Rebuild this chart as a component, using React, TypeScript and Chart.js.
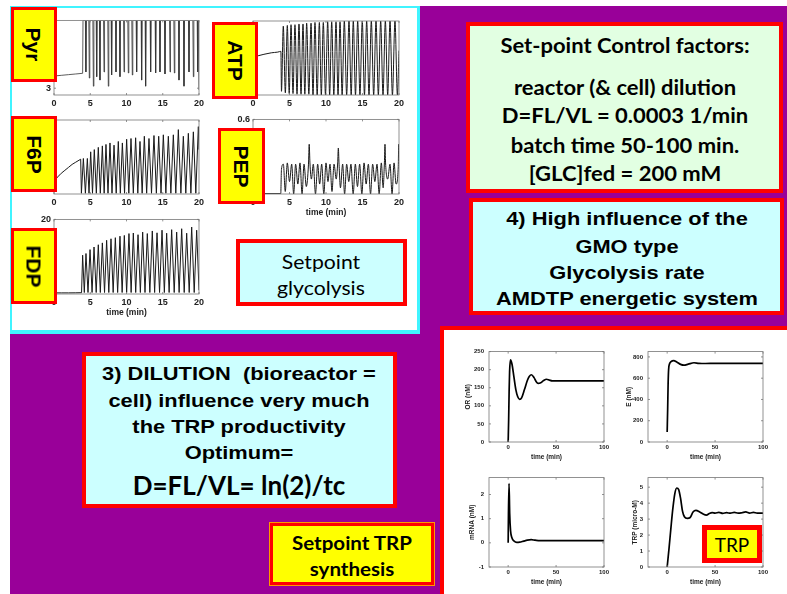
import React, { useEffect, useRef } from 'react';
import { Chart, registerables } from 'chart.js';
Chart.register(...registerables);
Chart.defaults.font.family = 'Liberation Sans';

type P = [number, number];

// ---------------- data ----------------
const T_TICKS_20 = [0, 5, 10, 15, 20];
const T_TICKS_100 = [0, 50, 100];

// Pyr: flat start, then plateau at top with sharp downward dips
const PYR_START: P[] = [[0, 3.36], [1, 3.38], [2, 3.4], [3, 3.42], [3.95, 3.44]];
const PYR_TOP = 5;
const PYR_DIP_T = [4.4, 4.87, 5.43, 5.89, 6.34, 6.9, 7.49, 7.95, 8.55, 9.1, 9.66, 10.25, 10.8, 11.4, 12.09, 12.64, 13.33, 14.02, 14.62, 15.31, 16.0, 16.6, 17.24, 17.93, 18.62, 19.22, 19.82];
const PYR_DIP_V = [3.48, 3.3, 3.06, 3.34, 3.24, 3.48, 3.06, 3.39, 3.48, 3.34, 3.48, 3.45, 3.39, 3.48, 3.24, 3.06, 3.48, 3.45, 3.48, 3.42, 3.48, 3.45, 3.24, 3.06, 3.48, 3.34, 3.48];
const PYR_END: P = [20, 2.95];
const PYR_YTICKS = [3];

const ATP: P[] = [[0.7, 0.53], [1.5, 0.55], [2.5, 0.57], [3.4, 0.58], [3.82, 0.59], [3.9, 0.05],
  [4.15, 0.93], [4.43, 0.03], [4.7, 0.94], [4.96, 0.02], [5.21, 0.95], [5.48, 0.02], [5.75, 0.95], [6.03, 0.01], [6.3, 0.96], [6.58, 0.01], [6.85, 0.96], [7.1, 0.01], [7.35, 0.97], [7.65, 0.01], [7.95, 0.97], [8.22, 0], [8.49, 0.98], [8.79, 0], [9.09, 0.98], [9.36, 0], [9.63, 0.98], [9.93, 0], [10.23, 0.99], [10.5, 0], [10.78, 0.99], [11.07, 0], [11.37, 0.99], [11.65, 0], [11.92, 0.99], [12.21, 0], [12.51, 1], [12.83, 0], [13.15, 1], [13.45, 0], [13.74, 1], [14.04, 0], [14.34, 1], [14.65, 0], [14.97, 1], [15.27, 0], [15.57, 1], [15.89, 0], [16.21, 1], [16.53, 0], [16.85, 1], [17.17, 0], [17.49, 1], [17.81, 0], [18.13, 1], [18.45, 0], [18.77, 1], [19.1, 0], [19.45, 1], [19.78, 0], [20, 0.6]];

const F6P: P[] = [[0, 0.17], [0.5, 0.23], [1, 0.28], [1.5, 0.32], [2, 0.36], [2.5, 0.4], [3, 0.43], [3.68, 0.47], [3.78, 0.01],
  [4.05, 0.48], [4.33, 0.01], [4.6, 0.48], [4.83, 0.01], [5.06, 0.57], [5.31, 0.01], [5.56, 0.6], [5.84, 0.01], [6.11, 0.63], [6.39, 0.01], [6.67, 0.65], [6.92, 0.01], [7.17, 0.67], [7.45, 0.01], [7.72, 0.69], [8.0, 0.01], [8.28, 0.66], [8.58, 0.01], [8.87, 0.71], [9.15, 0.01], [9.43, 0.69], [9.73, 0.01], [10.02, 0.74], [10.32, 0.01], [10.62, 0.75], [10.94, 0.01], [11.26, 0.76], [11.56, 0.01], [11.86, 0.71], [12.16, 0.01], [12.46, 0.78], [12.78, 0.01], [13.1, 0.75], [13.45, 0.01], [13.79, 0.79], [14.12, 0.01], [14.44, 0.78], [14.76, 0.01], [15.08, 0.8], [15.43, 0.01], [15.77, 0.78], [16.12, 0.01], [16.46, 0.8], [16.8, 0.01], [17.15, 0.87], [17.5, 0.01], [17.84, 0.78], [18.18, 0.01], [18.53, 0.82], [18.88, 0.01], [19.22, 0.84], [19.56, 0.01], [19.91, 0.91], [20, 0.6]];

const PEP: P[] = [[1.6, 0.003], [3.8, 0.003], [3.9, 0.2], [4.16, 0.24], [4.42, 0.02], [4.7, 0.25], [5.0, 0.1], [5.3, 0.24], [5.57, 0.0], [5.84, 0.24], [6.14, 0.08], [6.44, 0.25], [6.72, 0.0], [6.99, 0.24], [7.3, 0.06], [7.6, 0.24], [7.7, 0.4], [7.8, 0.25], [8.0, 0.12], [8.26, 0.24], [8.56, 0.0], [8.86, 0.24], [9.13, 0.08], [9.41, 0.24], [9.7, 0.0], [10.0, 0.25], [10.27, 0.1], [10.55, 0.24], [10.82, 0.02], [11.1, 0.24], [11.4, 0.12], [11.6, 0.25], [11.69, 0.37], [11.78, 0.25], [11.98, 0.05], [12.28, 0.24], [12.55, 0.0], [12.83, 0.24], [13.12, 0.1], [13.42, 0.24], [13.72, 0.0], [14.02, 0.24], [14.31, 0.06], [14.61, 0.24], [14.91, 0.0], [15.21, 0.25], [15.5, 0.08], [15.8, 0.24], [16.1, 0.0], [16.39, 0.24], [16.69, 0.1], [16.99, 0.24], [17.28, 0.0], [17.58, 0.25], [17.83, 0.05], [18.0, 0.25], [18.08, 0.4], [18.16, 0.25], [18.45, 0.12], [18.77, 0.24], [19.05, 0.0], [19.32, 0.25], [19.6, 0.08], [19.9, 0.22], [19.96, 0.4], [20, 0.3]];
const PEP_YTICKS = [0.6];

const FDP: P[] = [[0, 0.3], [1, 0.3], [2, 0.3], [3, 0.32], [3.8, 0.35], [3.95, 10.4], [4.18, 0.4], [4.41, 10.85], [4.69, 0.4], [4.97, 11.9], [5.25, 0.4], [5.52, 12.6], [5.82, 0.4], [6.11, 13.2], [6.39, 0.4], [6.67, 13.7], [6.97, 0.4], [7.26, 14.4], [7.56, 0.4], [7.86, 14.8], [8.16, 0.4], [8.46, 15.1], [8.78, 0.4], [9.1, 15.5], [9.4, 0.4], [9.7, 15.7], [10.02, 0.4], [10.34, 16.2], [10.64, 0.4], [10.94, 16.35], [11.27, 0.4], [11.59, 15.9], [11.91, 0.4], [12.23, 16.6], [12.55, 0.4], [12.87, 16.2], [13.22, 0.4], [13.56, 16.9], [13.88, 0.4], [14.21, 16.4], [14.56, 0.4], [14.9, 17.1], [15.22, 0.4], [15.54, 16.3], [15.88, 0.4], [16.23, 17.25], [16.58, 0.4], [16.92, 16.6], [17.26, 0.4], [17.61, 17.5], [17.96, 0.4], [18.3, 16.3], [18.65, 0.4], [18.99, 17.95], [19.34, 0.4], [19.68, 17.1], [20, 1.0]];
const FDP_YTICKS = [20];

const OR: P[] = [[0, 0], [0.5, 60], [1, 140], [1.5, 195], [2.4, 227], [4, 215], [6, 180], [8, 145], [10, 125], [12, 118], [14, 122], [17, 145], [20, 170], [22, 181], [24.3, 186], [27, 178], [29, 168], [31.3, 162], [34, 164], [37, 170], [40, 173.5], [43, 171], [46, 169], [50, 169], [60, 169], [70, 169], [80, 169], [90, 169], [100, 169]];
const OR_YTICKS = [0, 50, 100, 150, 200, 250];

const E: P[] = [[0, 95], [0.5, 300], [1, 550], [1.5, 680], [2.5, 735], [4, 755], [6.9, 766], [10, 752], [14, 730], [17.4, 722], [22, 732], [28, 745], [33, 740], [40, 738], [50, 739], [60, 739], [70, 739], [80, 739], [90, 739], [100, 739]];
const E_YTICKS = [0, 200, 400, 600, 800];

const MRNA: P[] = [[0, 0], [0.3, 1.2], [0.9, 2.45], [1.6, 1.2], [2.5, 0.5], [4, 0.2], [6, 0.08], [9, 0.02], [12, 0.03], [16, 0.07], [20, 0.11], [24, 0.13], [28, 0.11], [33, 0.09], [40, 0.09], [50, 0.09], [60, 0.09], [70, 0.09], [80, 0.09], [90, 0.09], [100, 0.09]];
const MRNA_YTICKS = [-1, 0, 1, 2];

const TRP: P[] = [[0, 0], [2, 1.2], [4, 2.5], [6, 3.7], [8, 4.6], [10, 4.95], [12, 4.85], [14, 4.3], [16, 3.5], [18, 3.15], [21, 3.05], [24, 3.1], [27, 3.45], [30, 3.55], [34, 3.45], [38, 3.3], [41, 3.25], [44, 3.35], [47, 3.4], [50, 3.38], [54, 3.42], [58, 3.36], [62, 3.4], [66, 3.37], [70, 3.42], [74, 3.37], [78, 3.4], [82, 3.45], [86, 3.38], [90, 3.42], [94, 3.37], [100, 3.38]];
const TRP_YTICKS = [0, 1, 2, 3, 4, 5];

// Build the Pyr table (plateau + dips) from the read values
const PYR: P[] = (() => {
  const out: P[] = [...PYR_START, [4.0, PYR_TOP]];
  PYR_DIP_T.forEach((t, i) => {
    out.push([t - 0.07, PYR_TOP], [t, PYR_DIP_V[i]], [t + 0.07, PYR_TOP]);
  });
  out.push(PYR_END);
  return out;
})();

// ---------------- chart machinery ----------------
const boxPlugin = {
  id: 'mbox',
  afterDraw(chart: any, _a: any, opts: any) {
    const { ctx, chartArea: a } = chart;
    const tl = opts.tick ?? 2;
    ctx.save();
    ctx.strokeStyle = opts.color || '#666';
    ctx.lineWidth = opts.width || 0.8;
    ctx.strokeRect(a.left, a.top, a.right - a.left, a.bottom - a.top);
    ctx.beginPath();
    const xs = chart.scales.x, ys = chart.scales.y;
    xs.ticks.forEach((t: any) => {
      const px = xs.getPixelForValue(t.value);
      ctx.moveTo(px, a.bottom); ctx.lineTo(px, a.bottom - tl);
      ctx.moveTo(px, a.top); ctx.lineTo(px, a.top + tl);
    });
    ys.ticks.forEach((t: any) => {
      const py = ys.getPixelForValue(t.value);
      ctx.moveTo(a.left, py); ctx.lineTo(a.left + tl, py);
      ctx.moveTo(a.right, py); ctx.lineTo(a.right - tl, py);
    });
    ctx.stroke();
    ctx.restore();
  },
};

interface Spec {
  left: number; top: number; w: number; h: number;
  yAxisW: number; xAxisH: number; padTop: number; padRight: number;
  points: P[]; xMin: number; xMax: number; yMin: number; yMax: number;
  xTicks: number[]; yTicks: number[];
  tickFont: number; xTickPad: number; yTickPad: number;
  xTitle?: string; yTitle?: string; titleFont: number; xTitlePad: number; yTitlePad: number;
  lineWidth: number; smooth: boolean; tickLen: number; color: string; boxColor: string;
}

function makeConfig(s: Spec): any {
  const tickFont = { family: 'Liberation Sans', size: s.tickFont, weight: 'bold' };
  const titleFont = { family: 'Liberation Sans', size: s.titleFont, weight: 'bold' };
  return {
    type: 'line',
    data: {
      datasets: [{
        data: s.points.map(([x, y]) => ({ x, y })),
        borderColor: s.color, borderWidth: s.lineWidth, pointRadius: 0, fill: false,
        tension: 0, cubicInterpolationMode: s.smooth ? 'monotone' : 'default',
      }],
    },
    options: {
      animation: false, responsive: false, events: [],
      layout: { padding: { top: s.padTop, right: s.padRight, left: 0, bottom: 0 } },
      plugins: { legend: { display: false }, tooltip: { enabled: false }, mbox: { tick: s.tickLen, color: s.boxColor } },
      scales: {
        x: {
          type: 'linear', min: s.xMin, max: s.xMax,
          grid: { display: false, drawTicks: false }, border: { display: false },
          ticks: { font: tickFont, color: '#222', padding: s.xTickPad, maxRotation: 0, autoSkip: false },
          afterBuildTicks: (sc: any) => { sc.ticks = s.xTicks.map((v) => ({ value: v })); },
          afterFit: (sc: any) => { sc.height = s.xAxisH; },
          title: { display: !!s.xTitle, text: s.xTitle || '', font: titleFont, color: '#222', padding: { top: 0, bottom: s.xTitlePad } },
        },
        y: {
          type: 'linear', min: s.yMin, max: s.yMax,
          grid: { display: false, drawTicks: false }, border: { display: false },
          ticks: { font: tickFont, color: '#222', padding: s.yTickPad, autoSkip: false },
          afterBuildTicks: (sc: any) => { sc.ticks = s.yTicks.map((v) => ({ value: v })); },
          afterFit: (sc: any) => { sc.width = s.yAxisW; },
          title: { display: !!s.yTitle, text: s.yTitle || '', font: titleFont, color: '#222', padding: { top: s.yTitlePad, bottom: 0 } },
        },
      },
    },
    plugins: [boxPlugin],
  };
}

function MiniChart({ s }: { s: Spec }) {
  const ref = useRef<HTMLCanvasElement>(null);
  const cw = s.yAxisW + s.w + s.padRight;
  const ch = s.padTop + s.h + s.xAxisH;
  useEffect(() => {
    const chart = new Chart(ref.current as HTMLCanvasElement, makeConfig(s));
    return () => chart.destroy();
  }, []);
  return (
    <canvas ref={ref} width={cw} height={ch}
      style={{ position: 'absolute', left: s.left - s.yAxisW, top: s.top - s.padTop, width: cw, height: ch }} />
  );
}

const small = (o: Partial<Spec>): Spec => ({
  left: 0, top: 0, w: 145, h: 75, yAxisW: 30, xAxisH: 30, padTop: 8, padRight: 10,
  points: [], xMin: 0, xMax: 20, yMin: 0, yMax: 1, xTicks: T_TICKS_20, yTicks: [],
  tickFont: 9, xTickPad: 3, yTickPad: 3, titleFont: 8.5, xTitlePad: 6, yTitlePad: 0,
  lineWidth: 1, smooth: false, tickLen: 2, color: '#1a1a1a', boxColor: '#777', ...o,
});
const trp = (o: Partial<Spec>): Spec => ({
  left: 0, top: 0, w: 115, h: 93, yAxisW: 30, xAxisH: 22, padTop: 6, padRight: 8,
  points: [], xMin: -20, xMax: 100, yMin: 0, yMax: 1, xTicks: T_TICKS_100, yTicks: [],
  tickFont: 6, xTickPad: 2, yTickPad: 5, xTitle: 'time (min)', titleFont: 6.5, xTitlePad: 3, yTitlePad: 5,
  lineWidth: 1.7, smooth: true, tickLen: 2, color: '#000', boxColor: '#777', ...o,
});

const CHARTS: Spec[] = [
  small({ left: 54, top: 20, w: 145, h: 75, points: PYR, yMin: 2.8, yMax: PYR_TOP, yTicks: PYR_YTICKS, lineWidth: 0.8, color: '#333' }),
  small({ left: 253, top: 21, w: 146, h: 74, points: ATP, yMin: 0, yMax: 1, smooth: true }),
  small({ left: 54, top: 120, w: 145, h: 74, points: F6P, yMin: 0, yMax: 1 }),
  small({ left: 253, top: 119, w: 146, h: 75, points: PEP, yMin: 0, yMax: 0.6, yTicks: PEP_YTICKS, xTitle: 'time (min)', smooth: true }),
  small({ left: 54, top: 219, w: 145, h: 75, points: FDP, yMin: 0, yMax: 20, yTicks: FDP_YTICKS, xTitle: 'time (min)' }),
  trp({ left: 489, top: 349, h: 93, points: OR, yMin: 0, yMax: 250, yTicks: OR_YTICKS, yTitle: 'OR (nM)', yTitlePad: 5 }),
  trp({ left: 648, top: 349, h: 93, points: E, yMin: 0, yMax: 850, yTicks: E_YTICKS, yTitle: 'E (nM)', yTitlePad: 7 }),
  trp({ left: 489, top: 475, h: 92, points: MRNA, yMin: -1, yMax: 2.7, yTicks: MRNA_YTICKS, yTitle: 'mRNA (nM)', yTitlePad: 9 }),
  trp({ left: 648, top: 475, h: 92, points: TRP, yMin: 0, yMax: 5.6, yTicks: TRP_YTICKS, yTitle: 'TRP (micro-M)', yTitlePad: 13 }),
];

// ---------------- slide decoration ----------------
const RED = '#ff0000';
const CYANBOX = '#ccffff';
const YEL = '#ffff00';

interface BoxDef { l: number; t: number; w: number; h: number; bg: string; b: number; outline?: string }
const BOXES: BoxDef[] = [
  { l: 236, t: 239, w: 171, h: 67, bg: CYANBOX, b: 4 },
  { l: 466, t: 22, w: 317, h: 171, bg: '#e2ffe2', b: 4 },
  { l: 469, t: 198, w: 315, h: 117, bg: CYANBOX, b: 4 },
  { l: 82, t: 352, w: 315, h: 156, bg: CYANBOX, b: 4 },
  { l: 270, t: 523, w: 164, h: 62, bg: YEL, b: 3, outline: '#ff9900' },
  { l: 702, t: 525, w: 60, h: 38, bg: YEL, b: 5 },
];

interface LabelDef { text: string; l: number; t: number; w: number; h: number }
const LABELS: LabelDef[] = [
  { text: 'Pyr', l: 11, t: 7, w: 46, h: 75 },
  { text: 'ATP', l: 212, t: 22, w: 46, h: 77 },
  { text: 'F6P', l: 11, t: 116, w: 46, h: 76 },
  { text: 'PEP', l: 218, t: 128, w: 47, h: 76 },
  { text: 'FDP', l: 11, t: 228, w: 46, h: 76 },
];

interface TextDef { text: string; x: number; y: number; font: string; size: number; weight: number; sx: number }
const CAL = 'Lato';
const ARI = 'Liberation Sans';
const TEXTS: TextDef[] = [
  { text: 'Set-point Control factors:', x: 625, y: 45, font: CAL, size: 20, weight: 700, sx: 1.1 },
  { text: 'reactor (& cell) dilution', x: 625, y: 87, font: CAL, size: 20, weight: 700, sx: 1.1 },
  { text: 'D=FL/VL = 0.0003 1/min', x: 625, y: 115, font: CAL, size: 20, weight: 700, sx: 1.1 },
  { text: 'batch time 50-100 min.', x: 625, y: 145, font: CAL, size: 20, weight: 700, sx: 1.1 },
  { text: '[GLC]fed = 200 mM', x: 625, y: 173, font: CAL, size: 20, weight: 700, sx: 1.1 },
  { text: '4) High influence of the', x: 627, y: 218, font: ARI, size: 19, weight: 700, sx: 1.15 },
  { text: 'GMO type', x: 627, y: 246, font: ARI, size: 19, weight: 700, sx: 1.15 },
  { text: 'Glycolysis rate', x: 627, y: 272, font: ARI, size: 19, weight: 700, sx: 1.15 },
  { text: 'AMDTP energetic system', x: 627, y: 298, font: ARI, size: 19, weight: 700, sx: 1.15 },
  { text: '3) DILUTION  (bioreactor =', x: 239, y: 373, font: ARI, size: 19, weight: 700, sx: 1.15 },
  { text: 'cell) influence very much', x: 239, y: 400, font: ARI, size: 19, weight: 700, sx: 1.15 },
  { text: 'the TRP productivity', x: 239, y: 426, font: ARI, size: 19, weight: 700, sx: 1.15 },
  { text: 'Optimum=', x: 239, y: 452, font: ARI, size: 19, weight: 700, sx: 1.15 },
  { text: 'D=FL/VL= ln(2)/tc', x: 239, y: 485, font: CAL, size: 26, weight: 700, sx: 1 },
  { text: 'Setpoint TRP', x: 352, y: 542, font: CAL, size: 19, weight: 700, sx: 1.08 },
  { text: 'synthesis', x: 352, y: 568, font: CAL, size: 19, weight: 700, sx: 1.08 },
  { text: 'Setpoint', x: 321, y: 261, font: CAL, size: 20, weight: 400, sx: 1.06 },
  { text: 'glycolysis', x: 321, y: 287, font: CAL, size: 20, weight: 400, sx: 1.06 },
  { text: 'TRP', x: 732, y: 544, font: CAL, size: 19, weight: 400, sx: 1 },
];

export default function App() {
  return (
    <div style={{ position: 'fixed', left: 0, top: 0, width: 787, height: 594, background: '#fff', overflow: 'hidden' }}>
      <div style={{ position: 'absolute', left: 10, top: 6, width: 777, height: 588, background: '#990099' }} />
      <div style={{ position: 'absolute', left: 10, top: 6, width: 410, height: 328, background: '#fff', boxSizing: 'border-box', border: '2px solid #40f4ff', borderRightWidth: 3, borderBottomWidth: 4 }} />
      <div style={{ position: 'absolute', left: 440, top: 326, width: 400, height: 300, background: '#fff', boxSizing: 'border-box', border: '4px solid ' + RED }} />
      {CHARTS.map((s, i) => <MiniChart key={i} s={s} />)}
      {BOXES.map((b, i) => (
        <div key={'b' + i} style={{ position: 'absolute', left: b.l, top: b.t, width: b.w, height: b.h, background: b.bg, boxSizing: 'border-box', border: `${b.b}px solid ${RED}`, outline: b.outline ? `1px solid ${b.outline}` : undefined }} />
      ))}
      {LABELS.map((b, i) => (
        <div key={'l' + i} style={{ position: 'absolute', left: b.l, top: b.t, width: b.w, height: b.h, background: YEL, boxSizing: 'border-box', border: `3px solid ${RED}`, display: 'flex', alignItems: 'center', justifyContent: 'center' }}>
          <span style={{ display: 'inline-block', transform: 'rotate(90deg)', fontFamily: ARI, fontWeight: 700, fontSize: 21, lineHeight: 1, color: '#000', whiteSpace: 'pre' }}>{b.text}</span>
        </div>
      ))}
      {TEXTS.map((t, i) => (
        <div key={'t' + i} style={{ position: 'absolute', left: t.x, top: t.y, transform: `translate(-50%, -50%) scaleX(${t.sx})`, fontFamily: t.font, fontWeight: t.weight, fontSize: t.size, lineHeight: 1, whiteSpace: 'pre', color: '#000' }}>{t.text}</div>
      ))}
    </div>
  );
}
